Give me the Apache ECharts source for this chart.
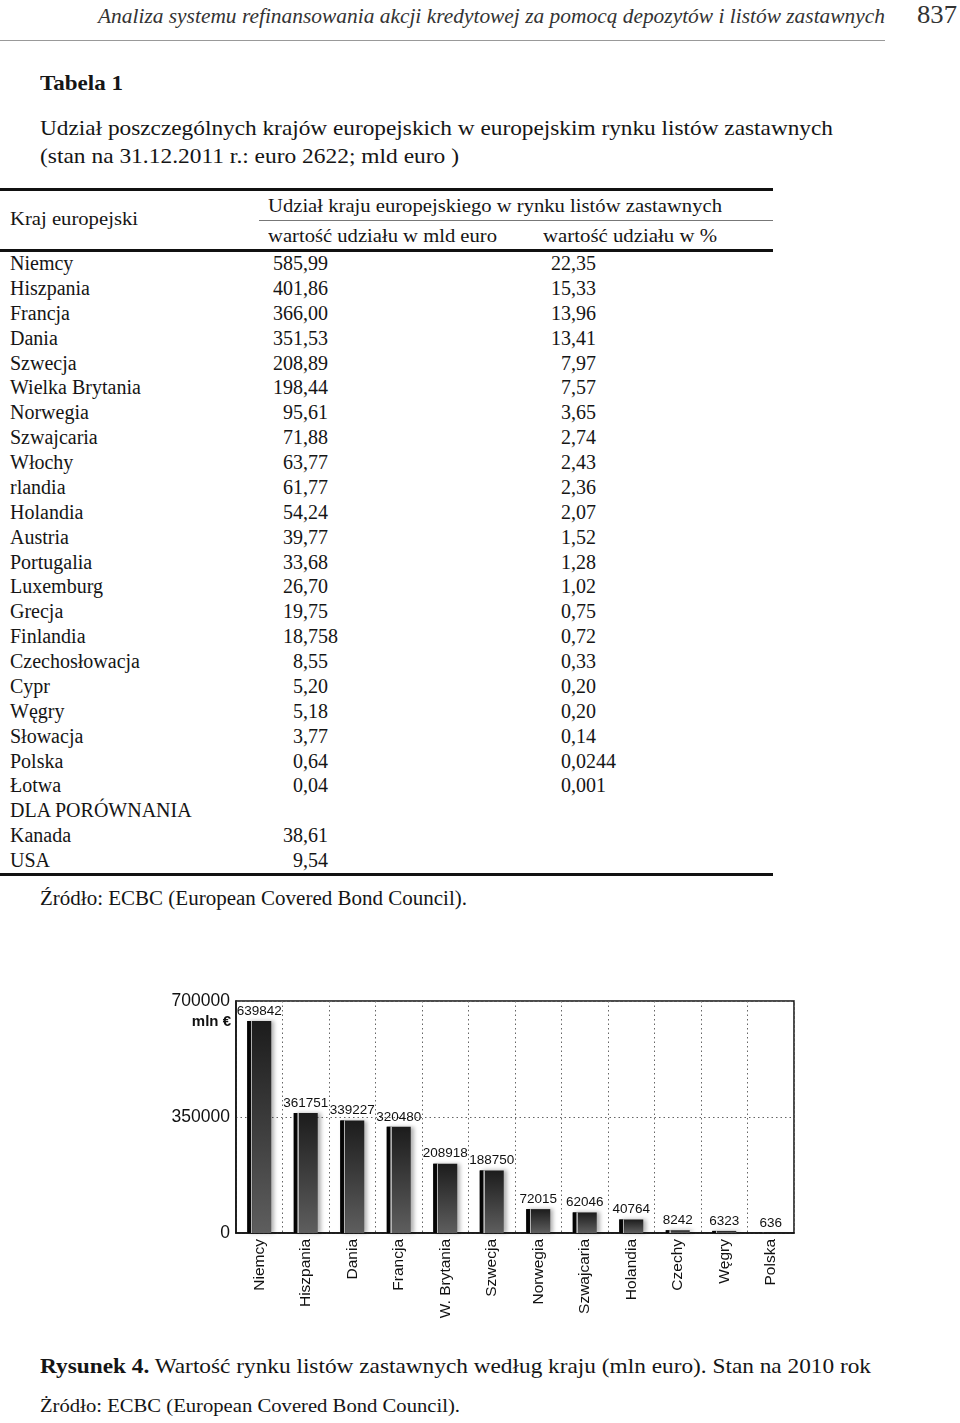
<!DOCTYPE html>
<html><head><meta charset="utf-8">
<script src="https://cdn.jsdelivr.net/npm/echarts@6/dist/echarts.min.js"></script>
<style>
html,body{margin:0;padding:0;background:#fff;}
body{width:960px;height:1423px;position:relative;overflow:hidden;font-family:"Liberation Serif","DejaVu Serif",serif;color:#151515;}
.t{position:absolute;white-space:nowrap;transform-origin:0 50%;}
.rule{position:absolute;}
#chart{position:absolute;left:140px;top:975px;width:680px;height:360px;}
</style></head><body>
<div id="page"></div>
<div id="chart"></div>
<script>
// ---------- DATA ----------
const pageHeader = "Analiza systemu refinansowania akcji kredytowej za pomocą depozytów i listów zastawnych";
const pageNumber = "837";
const tableTitle = "Tabela 1";
const tableCaption1 = "Udział poszczególnych krajów europejskich w europejskim rynku listów zastawnych";
const tableCaption2 = "(stan na 31.12.2011 r.: euro 2622; mld euro )";
const colHeadCountry = "Kraj europejski";
const colHeadGroup = "Udział kraju europejskiego w rynku listów zastawnych";
const colHeadValue = "wartość udziału w mld euro";
const colHeadShare = "wartość udziału w %";
const tableCountries = ["Niemcy","Hiszpania","Francja","Dania","Szwecja","Wielka Brytania","Norwegia","Szwajcaria","Włochy","rlandia","Holandia","Austria","Portugalia","Luxemburg","Grecja","Finlandia","Czechosłowacja","Cypr","Węgry","Słowacja","Polska","Łotwa"];
const tableValuesMld = ["585,99","401,86","366,00","351,53","208,89","198,44","95,61","71,88","63,77","61,77","54,24","39,77","33,68","26,70","19,75","18,758","8,55","5,20","5,18","3,77","0,64","0,04"];
const tableShares = ["22,35","15,33","13,96","13,41","7,97","7,57","3,65","2,74","2,43","2,36","2,07","1,52","1,28","1,02","0,75","0,72","0,33","0,20","0,20","0,14","0,0244","0,001"];
const comparisonLabel = "DLA PORÓWNANIA";
const comparisonCountries = ["Kanada","USA"];
const comparisonValuesMld = ["38,61","9,54"];
const tableSource = "Źródło: ECBC (European Covered Bond Council).";

const chartCountries = ["Niemcy","Hiszpania","Dania","Francja","W. Brytania","Szwecja","Norwegia","Szwajcaria","Holandia","Czechy","Węgry","Polska"];
const chartValues = [639842,361751,339227,320480,208918,188750,72015,62046,40764,8242,6323,636];
const yTicks = [0,350000,700000];
const yUnit = "mln €";
const figureLabel = "Rysunek 4.";
const figureCaption = " Wartość rynku listów zastawnych według kraju (mln euro). Stan na 2010 rok";
const figureSource = "Żródło: ECBC (European Covered Bond Council).";

// ---------- PAGE TEXT ----------
const page = document.getElementById('page');
const SERIF = '"Liberation Serif","DejaVu Serif",serif';
const cv = document.createElement('canvas').getContext('2d');
function measure(s, size, weight, style){
  cv.font = (style||'normal')+' '+(weight||'normal')+' '+size+'px '+SERIF;
  return cv.measureText(s).width;
}
function txt(s, x, yc, size, o){
  o = o || {};
  const d = document.createElement('div');
  d.className = 't';
  if (o.html) d.innerHTML = s; else d.textContent = s;
  d.style.fontSize = size+'px';
  d.style.lineHeight = size+'px';
  d.style.height = size+'px';
  d.style.top = (yc - size/2 - 1)+'px';
  d.style.left = x+'px';
  if (o.italic) d.style.fontStyle = 'italic';
  if (o.bold) d.style.fontWeight = 'bold';
  if (o.color) d.style.color = o.color;
  page.appendChild(d);
  if (o.w){
    const w = d.getBoundingClientRect().width;
    d.style.transform = 'scaleX('+(o.w/w)+')';
  }
  return d;
}
function rule(x1, x2, y, h, color){
  const d = document.createElement('div');
  d.className = 'rule';
  d.style.left = x1+'px'; d.style.width = (x2-x1)+'px';
  d.style.top = (y - h/2)+'px'; d.style.height = h+'px';
  d.style.background = color || '#111';
  page.appendChild(d);
}
function decimal(s, commaX, yc, size){
  const intPart = s.split(',')[0];
  const w = measure(intPart, size);
  txt(s, commaX - w, yc, size);
}

txt(pageHeader, 98, 17, 20, {italic:true, w:787, color:'#333'});
txt(pageNumber, 917, 15, 25, {w:40, color:'#333'});
rule(0, 885, 40, 1, '#999');
txt(tableTitle, 40, 84, 21, {bold:true, w:83});
txt(tableCaption1, 40, 129, 21, {w:793});
txt(tableCaption2, 40, 157, 21, {w:419});

rule(0, 773, 189, 3);
txt(colHeadCountry, 10, 219, 19, {w:128});
txt(colHeadGroup, 268, 206, 19, {w:454});
rule(259, 773, 220, 1, '#777');
txt(colHeadValue, 268, 236, 19, {w:229});
txt(colHeadShare, 543, 236, 19, {w:174});
rule(0, 773, 250, 3);

const ROW0 = 264, ROWH = 24.875, FS = 20;
tableCountries.forEach((c, i) => {
  const y = ROW0 + i*ROWH;
  txt(c, 10, y, FS);
  decimal(tableValuesMld[i], 303, y, FS);
  decimal(tableShares[i], 571, y, FS);
});
let yy = ROW0 + tableCountries.length*ROWH;
txt(comparisonLabel, 10, yy, FS);
comparisonCountries.forEach((c, j) => {
  const y = yy + (j+1)*ROWH;
  txt(c, 10, y, FS);
  decimal(comparisonValuesMld[j], 303, y, FS);
});
rule(0, 773, 874, 3);
txt(tableSource, 40, 899, FS, {w:427});

txt('<b>'+figureLabel+'</b>'+figureCaption, 40, 1367, 21, {html:true, w:831});
txt(figureSource, 40, 1407, 18, {w:420});

// ---------- CHART ----------
const chart = echarts.init(document.getElementById('chart'), null, {renderer:'canvas'});
const SANS = 'Liberation Sans, Arial, sans-serif';
chart.setOption({
  animation: false,
  backgroundColor: '#fff',
  grid: {left: 96, top: 26, width: 558, height: 232, show: true, borderColor: '#111', borderWidth: 1.5, backgroundColor: 'transparent'},
  xAxis: {
    type: 'category',
    data: chartCountries,
    axisLine: {show: true, lineStyle: {color: '#111', width: 1.5}},
    axisTick: {show: false},
    axisLabel: {rotate: 90, fontSize: 15.5, fontFamily: SANS, color: '#111', margin: 6, interval: 0},
    splitLine: {show: true, lineStyle: {type: [1.5, 3], color: '#666', width: 1}}
  },
  yAxis: {
    type: 'value',
    min: yTicks[0], max: yTicks[yTicks.length-1], interval: yTicks[1]-yTicks[0],
    axisLine: {show: true, lineStyle: {color: '#111', width: 1.5}},
    axisTick: {show: false},
    axisLabel: {fontSize: 17.5, fontFamily: SANS, color: '#111', margin: 6, formatter: v => String(v)},
    splitLine: {show: true, lineStyle: {type: [1.5, 3], color: '#666', width: 1}}
  },
  graphic: [{
    type: 'text', x: 91, y: 47,
    style: {text: yUnit, font: 'bold 15px '+SANS, fill: '#111', textAlign: 'right', textVerticalAlign: 'middle'}
  }],
  series: [{
    type: 'bar',
    data: chartValues,
    barWidth: 24,
    itemStyle: {
      color: new echarts.graphic.LinearGradient(0, 0, 0, 1, [
        {offset: 0, color: '#1c1c1c'}, {offset: 1, color: '#5e5e5e'}
      ]),
      shadowColor: 'rgba(0,0,0,0.3)', shadowBlur: 4, shadowOffsetX: 3, shadowOffsetY: 0
    },
    label: {show: true, position: 'top', distance: 3, fontSize: 13.5, fontFamily: SANS, color: '#111', formatter: p => String(p.value)}
  }, {
    type: 'bar',
    data: chartValues,
    barWidth: 24,
    barGap: '-100%',
    silent: true,
    itemStyle: {
      color: new echarts.graphic.LinearGradient(0, 0, 1, 0, [
        {offset: 0, color: 'rgba(0,0,0,1)'},
        {offset: 0.15, color: 'rgba(10,10,10,1)'},
        {offset: 0.16, color: 'rgba(190,190,190,0.9)'},
        {offset: 0.21, color: 'rgba(190,190,190,0.9)'},
        {offset: 0.22, color: 'rgba(0,0,0,0)'},
        {offset: 1, color: 'rgba(0,0,0,0)'}
      ])
    },
    label: {show: false}
  }]
});
</script>
</body></html>
